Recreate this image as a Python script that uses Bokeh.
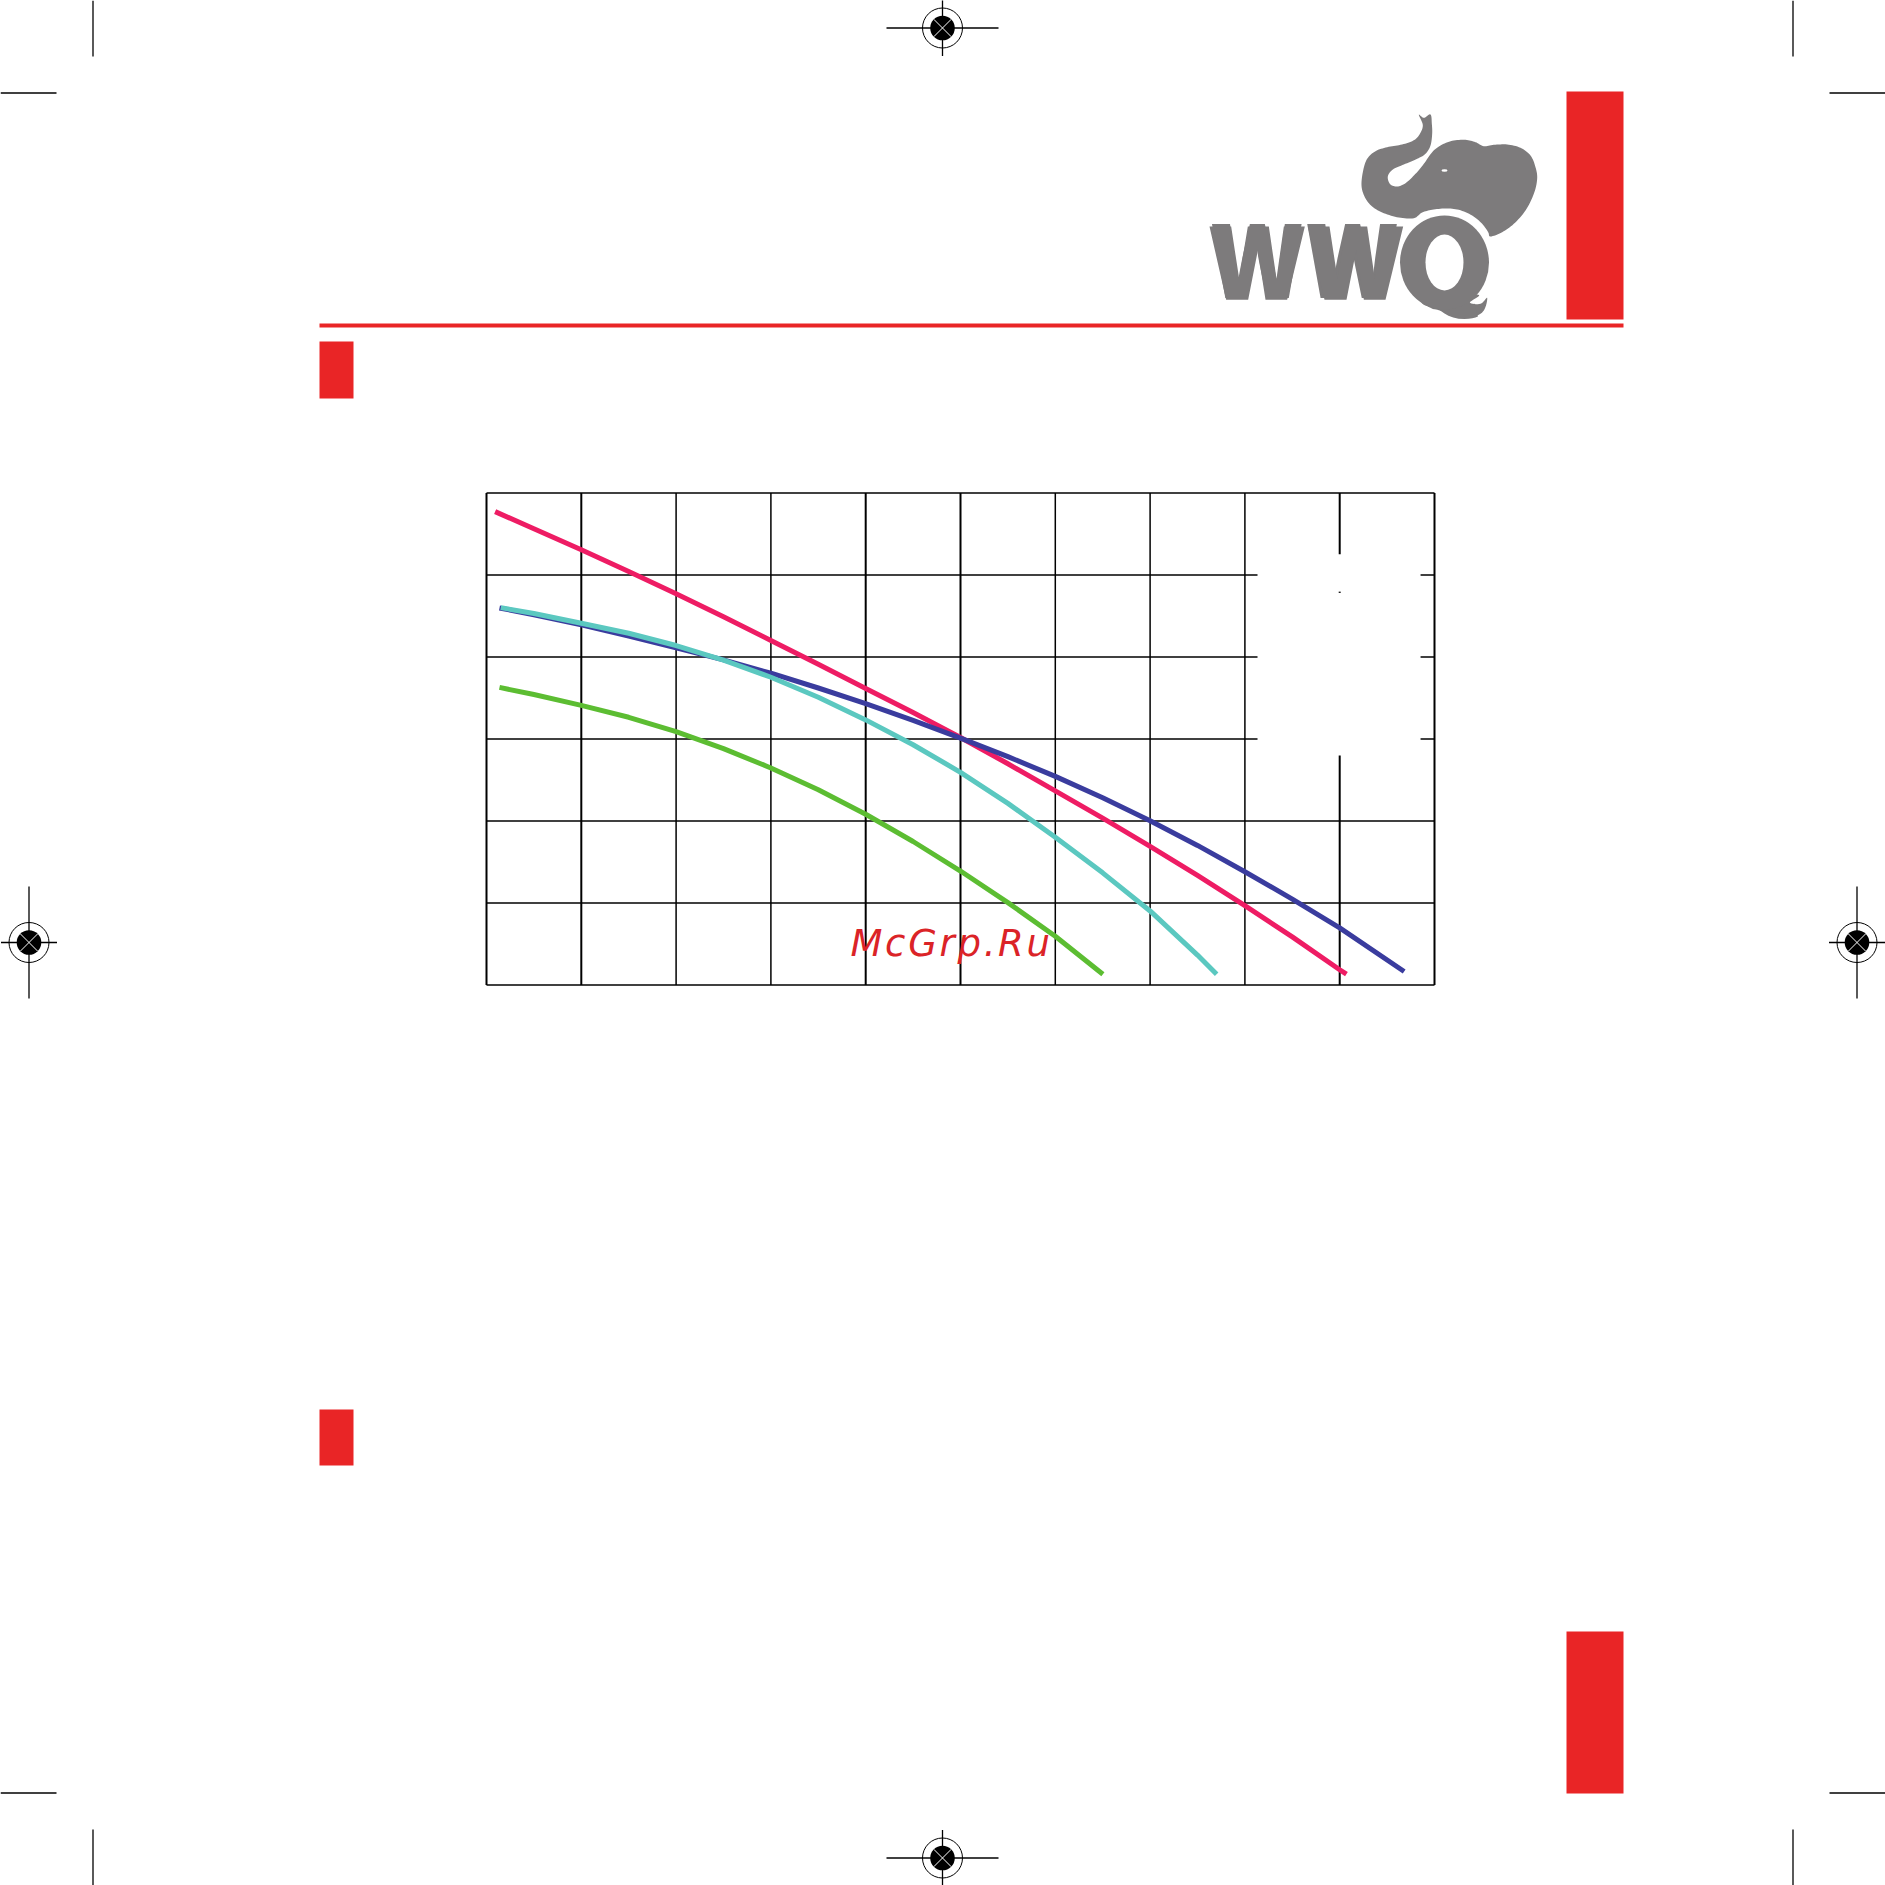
import numpy as np
from bokeh.plotting import figure
from bokeh.models import Range1d
from bokeh.core.properties import value
from bokeh.embed import file_html
from bokeh.resources import INLINE

# ---- chart data (grid units)
x_bold_ticks = [0, 1, 4, 5, 9, 10]
x_thin_ticks = [2, 3, 6, 7, 8]
y_ticks = [0, 1, 2, 3, 4, 5, 6]

pink_x = [0.091, 0.5, 1, 1.5, 2, 2.5, 3, 3.5, 4, 4.5, 5, 5.5, 6, 6.5, 7, 7.5, 8, 8.5, 9, 9.071]
pink_y = [5.773, 5.563, 5.307, 5.043, 4.771, 4.49, 4.202, 3.911, 3.616, 3.322, 3.019, 2.698, 2.367, 2.035, 1.691, 1.337, 0.969, 0.587, 0.186, 0.132]

blue_x = [0.137, 0.5, 1, 1.5, 2, 2.5, 3, 3.5, 4, 4.5, 5, 5.5, 6, 6.5, 7, 7.5, 8, 8.5, 9, 9.68]
blue_y = [4.598, 4.514, 4.392, 4.255, 4.111, 3.964, 3.802, 3.622, 3.431, 3.227, 3.01, 2.785, 2.544, 2.284, 2.004, 1.702, 1.381, 1.048, 0.697, 0.165]

teal_x = [0.151, 0.5, 1, 1.5, 2, 2.5, 3, 3.5, 4, 4.5, 5, 5.5, 6, 6.5, 7, 7.5, 7.702]
teal_y = [4.602, 4.53, 4.412, 4.29, 4.14, 3.963, 3.753, 3.509, 3.233, 2.93, 2.594, 2.215, 1.802, 1.368, 0.903, 0.365, 0.132]

green_x = [0.137, 0.5, 1, 1.5, 2, 2.5, 3, 3.5, 4, 4.5, 5, 5.5, 6, 6.502]
green_y = [3.629, 3.542, 3.41, 3.265, 3.089, 2.883, 2.647, 2.38, 2.082, 1.75, 1.39, 1.005, 0.594, 0.132]

WATERMARK = "McGrp.Ru"
LOGO_TEXT = "WWQ"

RED = "#E92526"
GRAY = "#7D7B7C"
PAGE = 1885

# plot area of the chart in page pixels
L, R, T, B = 486.0, 1434.0, 492.5, 984.5
ux = (R - L) / 10
uy = (B - T) / 6

p = figure(width=PAGE, height=PAGE, output_backend="svg", toolbar_location=None,
           x_range=Range1d(-L / ux, (PAGE - L) / ux),
           y_range=Range1d((B - PAGE) / uy, B / uy),
           x_axis_type=None, y_axis_type=None, min_border=0,
           outline_line_color=None, background_fill_color="white", border_fill_color="white")
p.styles = {"letter-spacing": "2.7px"}
p.grid.visible = False
p.extra_x_ranges = {"page": Range1d(0, PAGE)}
p.extra_y_ranges = {"page": Range1d(PAGE, 0)}
pg = dict(x_range_name="page", y_range_name="page")

# ---- page furniture
rects = [(319, 1623, 323, 327), (319, 353, 341, 398), (319, 353, 1409, 1465),
         (1566, 1623, 91, 319), (1566, 1623, 1631, 1793)]
p.quad(left=[r[0] for r in rects], right=[r[1] for r in rects], top=[r[2] for r in rects],
       bottom=[r[3] for r in rects], fill_color=RED, line_color=None, **pg)

corner_v = [(92.5, 0, 56), (1792.5, 0, 56), (92.5, 1829, 1885), (1792.5, 1829, 1885)]
corner_h = [(92.5, 0, 56), (92.5, 1829, 1885), (1792.5, 0, 56), (1792.5, 1829, 1885)]
p.segment([c[0] for c in corner_v], [c[1] for c in corner_v], [c[0] for c in corner_v], [c[2] for c in corner_v],
          line_color="black", line_width=1.3, **pg)
p.segment([c[1] for c in corner_h], [c[0] for c in corner_h], [c[2] for c in corner_h], [c[0] for c in corner_h],
          line_color="black", line_width=1.3, **pg)

reg = [(942, 27.5, "t"), (942, 1857.5, "b"), (28.5, 942, "l"), (1856.5, 942, "r")]
for cx, cy, side in reg:
    if side in "tb":
        p.segment([cx - 56], [cy], [cx + 56], [cy], line_color="black", line_width=1.3, **pg)
        p.segment([cx], [cy - 28], [cx], [cy + 28], line_color="black", line_width=1.3, **pg)
    else:
        p.segment([cx - 28], [cy], [cx + 28], [cy], line_color="black", line_width=1.3, **pg)
        p.segment([cx], [cy - 56], [cx], [cy + 56], line_color="black", line_width=1.3, **pg)
    p.circle([cx], [cy], radius=20, fill_color=None, line_color="black", line_width=1, **pg)
    p.circle([cx], [cy], radius=12.3, fill_color="black", line_color=None, **pg)
    d = 12.3 * 0.707
    p.segment([cx - d, cx - d], [cy - d, cy + d], [cx + d, cx + d], [cy + d, cy - d],
              line_color="white", line_width=1, **pg)

# ---- logo
def smooth(pts, n=8):
    pts = np.asarray(pts, float)
    out = []
    m = len(pts)
    for i in range(m):
        p0, p1, p2, p3 = pts[(i - 1) % m], pts[i], pts[(i + 1) % m], pts[(i + 2) % m]
        for t in np.linspace(0, 1, n, endpoint=False):
            out.append(0.5 * ((2 * p1) + (p2 - p0) * t + (2 * p0 - 5 * p1 + 4 * p2 - p3) * t ** 2
                              + (3 * p1 - p0 - 3 * p2 + p3) * t ** 3))
    a = np.array(out)
    return list(1190 + a[:, 0] / 3), list(90 + a[:, 1] / 3)

elephant = [(685, 73), (700, 82), (720, 72), (724, 100), (725, 130), (720, 165), (705, 190), (680, 205),
            (640, 222), (610, 235), (595, 250), (592, 265), (600, 282), (620, 288), (645, 278), (675, 250),
            (700, 220), (725, 185), (750, 165), (785, 151), (825, 148), (855, 155), (880, 167), (910, 163),
            (950, 162), (990, 172), (1020, 195), (1035, 230), (1040, 265), (1030, 310), (1005, 360), (970, 400),
            (935, 425), (900, 438), (893, 425), (875, 400), (845, 375), (805, 358), (765, 354), (725, 358),
            (695, 366), (670, 383), (625, 381), (580, 368), (545, 348), (523, 320), (513, 285), (518, 240),
            (530, 205), (555, 182), (590, 170), (630, 163), (665, 152), (685, 135), (697, 105)]
ex, ey = smooth(elephant)
p.patch(ex, ey, fill_color=GRAY, line_color=None, **pg)
p.ellipse([1190 + 762 / 3], [90 + 240 / 3], width=[6], height=[2.4], fill_color="white", line_color=None, **pg)

tail = [(700, 630), (720, 652), (745, 659), (800, 675), (850, 678), (880, 660), (890, 622), (870, 640),
        (838, 636), (860, 612)]
tx, ty = smooth(tail)
p.patch(tx, ty, fill_color=GRAY, line_color=None, **pg)

p.text([1210], [254.3], text=[LOGO_TEXT], text_font=value("Noto Sans CJK SC Black"), text_font_style="bold",
       text_font_size="99px", text_color=GRAY, text_baseline="alphabetic",
       text_align="left", **pg)

# heavy W shapes of the logo, over the letters
w_shape = [(57, 408), (122, 408), (146, 565), (172, 408), (235, 408), (258, 565), (280, 408), (343, 408),
           (290, 628), (225, 628), (202, 480), (173, 628), (107, 628)]
for dx in (0, 295):
    p.patch([1190 + (a + dx) / 3 for a, _ in w_shape], [90 + b / 3 for _, b in w_shape],
            fill_color=GRAY, line_color=None, **pg)

# the big round Q of the logo drawn over the letter
qx, qy = 1190 + 762 / 3, 90 + 516 / 3
p.ellipse([qx], [qy], width=[89], height=[94], fill_color=GRAY, line_color=None, **pg)
p.ellipse([qx], [qy], width=[38], height=[56], fill_color="white", line_color=None, **pg)

# ---- chart grid (drawn through the chart scales)
p.segment(x_bold_ticks, [0] * len(x_bold_ticks), x_bold_ticks, [6] * len(x_bold_ticks), line_color="black", line_width=2)
p.segment(x_thin_ticks, [0] * len(x_thin_ticks), x_thin_ticks, [6] * len(x_thin_ticks), line_color="black", line_width=1.5)
p.segment([0] * len(y_ticks), y_ticks, [10] * len(y_ticks), y_ticks, line_color="black", line_width=1.3)

# blank legend box that covers part of the grid
p.quad(left=[8.133], right=[9.853], top=[5.254], bottom=[2.80], fill_color="white", line_color=None)
p.segment([9], [4.797], [9], [4.782], line_color="black", line_width=2)

# ---- curves
for xs, ys, col in [(pink_x, pink_y, "#EE1C64"), (blue_x, blue_y, "#3A3C9E"),
                    (teal_x, teal_y, "#5BC8C0"), (green_x, green_y, "#5CBD32")]:
    p.line(xs, ys, line_color=col, line_width=5, line_cap="butt", line_join="round")

# ---- watermark
p.text([850], [956 - 13], text=[WATERMARK], text_font=value("DejaVu Sans"), text_font_style="italic",
       text_font_size="37px", text_color="#DB2327", text_baseline="alphabetic", text_align="left", **pg)

open("out.html", "w").write(file_html(p, INLINE))
